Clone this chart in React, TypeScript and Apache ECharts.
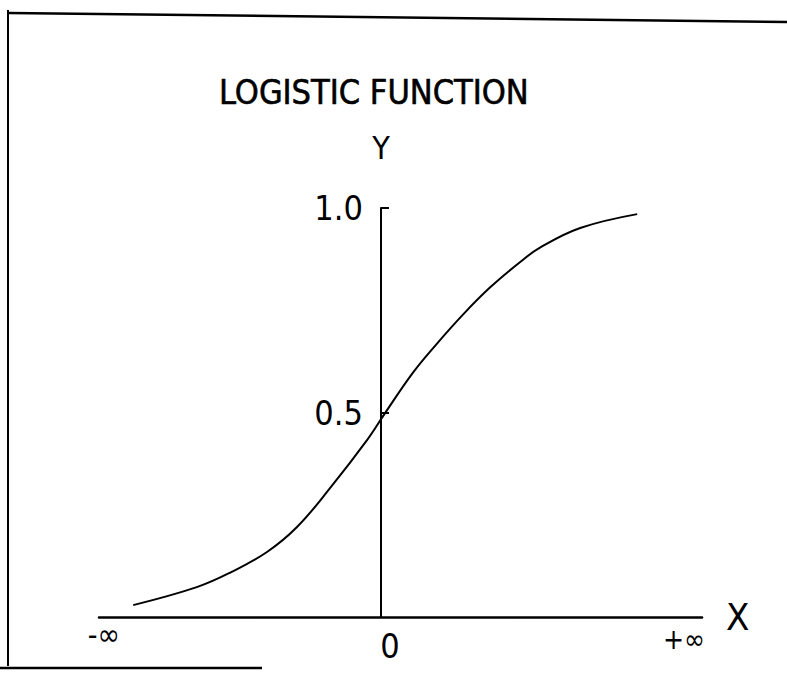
import React, { useEffect, useRef } from "react";
import * as echarts from "echarts";

const curveX = [-4.13, -3.07, -2.52, -1.9, -1.4, -0.85, -0.23, 0.07, 0.53, 0.93, 1.37, 1.82, 2.32, 2.65, 3.32, 4.27];
const curveY = [0.029, 0.073, 0.108, 0.159, 0.22, 0.315, 0.433, 0.499, 0.597, 0.668, 0.74, 0.806, 0.868, 0.903, 0.951, 0.985];
const yTickValues = [0.5, 1.0];
const yTickLabels = ["0.5", "1.0"];
const xTickValues = [-4.62, 0, 5.05];
const xTickLabels = ["-∞", "0", "+∞"];
const xRich = ["a", "b", "c"];
const X_MIN = -4.7;
const X_MAX = 5.35;

const FONT = '"Liberation Sans Narrow", "DejaVu Sans Condensed", "Liberation Sans", Arial, sans-serif';

const GRID = { left: 99, right: 85, top: 208, bottom: 75 };
const WIDTH = 787;
const HEIGHT = 692;

export default function App() {
  const ref = useRef<HTMLDivElement>(null);
  useEffect(() => {
    if (!ref.current) return;
    const chart = echarts.init(ref.current, null, { renderer: "svg" });
    const gridWidth = WIDTH - GRID.left - GRID.right;
    const yOffset = -((0 - X_MIN) / (X_MAX - X_MIN)) * gridWidth;
    chart.setOption({
      animation: false,
      backgroundColor: "#ffffff",
      title: {
        text: "LOGISTIC FUNCTION",
        left: 214,
        top: 70,
        textStyle: {
          fontSize: 34,
          fontWeight: "normal",
          color: "#000",
          fontFamily: FONT,
          textBorderColor: "#000",
          textBorderWidth: 0.6,
        },
      },
      grid: GRID,
      xAxis: {
        type: "value",
        min: X_MIN,
        max: X_MAX,
        splitLine: { show: false },
        axisTick: { show: false },
        axisLine: { onZero: false, lineStyle: { color: "#000", width: 2.5 } },
        name: "X",
        nameLocation: "end",
        nameGap: 24,
        nameTextStyle: { fontSize: 38, color: "#000", fontFamily: FONT },
        axisLabel: {
          customValues: xTickValues,
          margin: 2,
          color: "#000",
          fontFamily: FONT,
          formatter: (v: number) => {
            const i = xTickValues.indexOf(v);
            return i < 0 ? "" : `{${xRich[i]}|${xTickLabels[i]}}`;
          },
          rich: {
            a: { fontSize: 30, padding: [0, 0, 0, 0], color: "#000", fontFamily: FONT },
            b: { fontSize: 34, padding: [10, 0, 0, 18], color: "#000", fontFamily: FONT },
            c: { fontSize: 28, padding: [6, 0, 0, 0], color: "#000", fontFamily: FONT },
          },
        },
      },
      yAxis: {
        type: "value",
        min: 0,
        max: 1,
        interval: 0.5,
        offset: yOffset,
        splitLine: { show: false },
        axisLine: { onZero: false, lineStyle: { color: "#000", width: 2 } },
        axisTick: { show: true, inside: true, length: 8, customValues: yTickValues, lineStyle: { color: "#000", width: 2 } },
        name: "Y",
        nameLocation: "end",
        nameGap: 44,
        nameTextStyle: { fontSize: 32, color: "#000", fontFamily: FONT, align: "center" },
        axisLabel: {
          customValues: yTickValues,
          margin: 18,
          fontSize: 34,
          color: "#000",
          fontFamily: FONT,
          formatter: (v: number) => {
            const i = yTickValues.indexOf(v);
            return i < 0 ? "" : yTickLabels[i];
          },
        },
      },
      graphic: [
        { type: "line", shape: { x1: 8, y1: 10, x2: 8, y2: 666 }, style: { stroke: "#000", lineWidth: 2 } },
        { type: "line", shape: { x1: 9, y1: 13, x2: 787, y2: 22 }, style: { stroke: "#000", lineWidth: 2.5 } },
        { type: "line", shape: { x1: 0, y1: 668, x2: 262, y2: 668 }, style: { stroke: "#000", lineWidth: 2.5 } },
      ],
      series: [
        {
          type: "line",
          data: curveX.map((x, i) => [x, curveY[i]]),
          smooth: 0.4,
          showSymbol: false,
          lineStyle: { color: "#000", width: 2 },
        },
      ],
    });
    return () => chart.dispose();
  }, []);
  return <div ref={ref} style={{ position: "absolute", left: 0, top: 0, width: WIDTH, height: HEIGHT }} />;
}
